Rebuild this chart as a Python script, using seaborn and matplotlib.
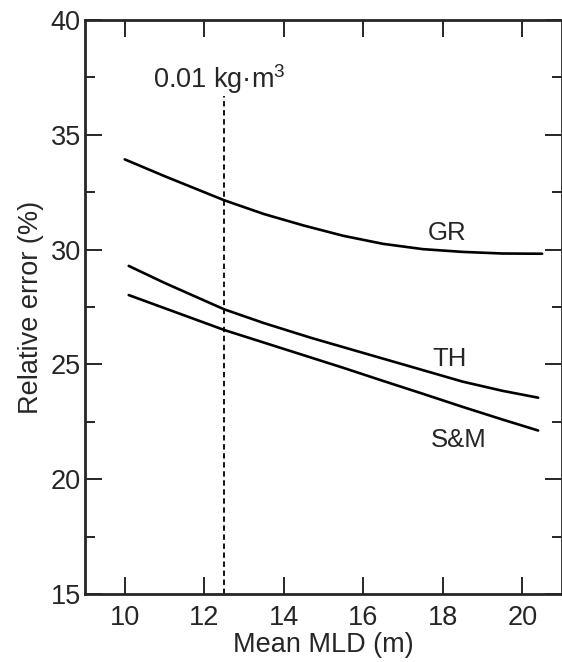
import matplotlib
matplotlib.use("Agg")
import matplotlib.pyplot as plt
import numpy as np
import pandas as pd
import seaborn as sns

# values
gr_x = [10.0, 11.0, 12.5, 13.5, 14.5, 15.5, 16.5, 17.5, 18.5, 19.5, 20.5]
gr_y = [33.93, 33.2, 32.15, 31.55, 31.05, 30.6, 30.25, 30.02, 29.9, 29.83, 29.82]

th_x = [10.1, 11.0, 12.5, 13.5, 14.7, 15.5, 16.4, 17.5, 18.5, 19.5, 20.4]
th_y = [29.29, 28.55, 27.4, 26.8, 26.15, 25.75, 25.3, 24.75, 24.25, 23.85, 23.55]

sm_x = [10.1, 11.0, 12.5, 13.5, 14.5, 15.5, 16.5, 17.5, 18.5, 19.5, 20.4]
sm_y = [28.02, 27.45, 26.5, 25.95, 25.4, 24.85, 24.28, 23.72, 23.15, 22.6, 22.12]

curve_names = ["GR", "TH", "S&M"]
label_x = [18.1, 18.17, 18.4]
label_y = [30.72, 25.23, 21.7]

threshold_x = 12.5
threshold_top = 36.7
threshold_text = "0.01 kg\u00b7m$^{3}$"

x_ticks = [10, 12, 14, 16, 18, 20]
y_ticks = [15, 20, 25, 30, 35, 40]
y_minor = [17.5, 22.5, 27.5, 32.5, 37.5]

df = pd.concat(
    [
        pd.DataFrame({"mld": gr_x, "err": gr_y, "curve": "GR"}),
        pd.DataFrame({"mld": th_x, "err": th_y, "curve": "TH"}),
        pd.DataFrame({"mld": sm_x, "err": sm_y, "curve": "S&M"}),
    ],
    ignore_index=True,
)

sns.set_style("ticks")
plt.rcParams["font.family"] = ["Liberation Sans", "DejaVu Sans"]
plt.rcParams["mathtext.default"] = "regular"

fig = plt.figure(figsize=(5.62, 6.62), dpi=100)
ax = fig.add_axes([85 / 562, 1 - 594 / 662, 477 / 562, 574 / 662])

sns.lineplot(
    data=df,
    x="mld",
    y="err",
    hue="curve",
    palette={"GR": "black", "TH": "black", "S&M": "black"},
    linewidth=1.9,
    legend=False,
    ax=ax,
)

# threshold line
ax.vlines(threshold_x, 15, threshold_top, colors="black", linestyles=(0, (3, 2)), linewidth=1.3)
ax.text(10.72, 37.05, threshold_text, fontsize=19.5, va="baseline", ha="left")

for name, lx, ly in zip(curve_names, label_x, label_y):
    ax.text(lx, ly, name, fontsize=18.5, ha="center", va="center")

ax.set_xlim(9, 21)
ax.set_ylim(15, 40)
ax.set_xticks(x_ticks)
ax.set_yticks(y_ticks)
ax.set_yticks(y_minor, minor=True)
ax.set_xticklabels([str(t) for t in x_ticks])
ax.set_yticklabels([str(t) for t in y_ticks])

ax.tick_params(axis="both", which="major", direction="in", length=12.5, width=1.4,
               top=True, right=True, labelsize=19.5, pad=6)
ax.tick_params(axis="y", which="minor", direction="in", length=7, width=1.4,
               left=True, right=True)
ax.tick_params(axis="x", which="major", pad=8)
ax.tick_params(axis="y", which="major", pad=3)

for s in ax.spines.values():
    s.set_linewidth(2)
    s.set_visible(True)

ax.set_xlabel("Mean MLD (m)", fontsize=19.5, labelpad=1)
ax.set_ylabel("Relative error (%)", fontsize=19.5, labelpad=5)

fig.savefig("out.png", dpi=100)
